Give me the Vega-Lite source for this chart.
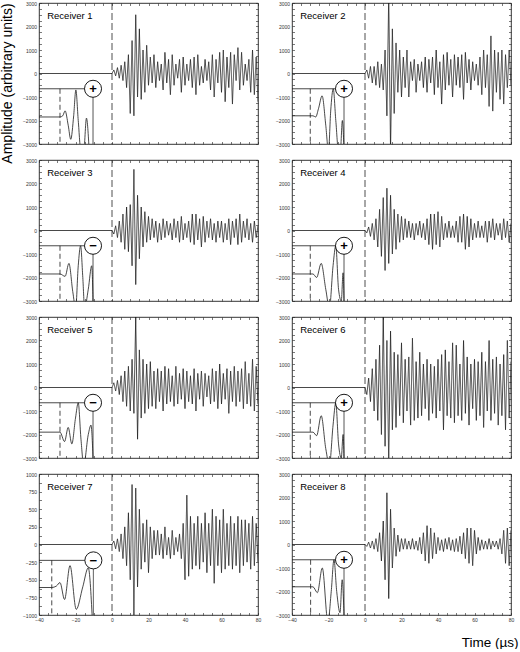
{
"$schema":"https://vega.github.io/schema/vega-lite/v6.json",
"padding":{"left":0,"top":0,"right":0,"bottom":0},
"background":"white",
"columns":2,
"spacing":{"row":16,"column":34},
"bounds":"flush",
"data":{"values":[
{"r":1,"s":"w","t":-40,"a":0},{"r":1,"s":"w","t":0,"a":0},{"r":1,"s":"w","t":1,"a":150},{"r":1,"s":"w","t":2,"a":-100},{"r":1,"s":"w","t":3,"a":250},{"r":1,"s":"w","t":4,"a":-200},{"r":1,"s":"w","t":5,"a":350},{"r":1,"s":"w","t":6,"a":-300},{"r":1,"s":"w","t":7,"a":500},{"r":1,"s":"w","t":8,"a":-600},{"r":1,"s":"w","t":9,"a":800},{"r":1,"s":"w","t":10,"a":-1700},{"r":1,"s":"w","t":11,"a":1400},{"r":1,"s":"w","t":12,"a":-1800},{"r":1,"s":"w","t":13,"a":2500},{"r":1,"s":"w","t":14,"a":-1000},{"r":1,"s":"w","t":15,"a":1900},{"r":1,"s":"w","t":16,"a":-1100},{"r":1,"s":"w","t":17,"a":1000},{"r":1,"s":"w","t":18,"a":-800},{"r":1,"s":"w","t":19,"a":1200},{"r":1,"s":"w","t":20,"a":-500},{"r":1,"s":"w","t":21,"a":700},{"r":1,"s":"w","t":22,"a":-400},{"r":1,"s":"w","t":23,"a":800},{"r":1,"s":"w","t":24,"a":-600},{"r":1,"s":"w","t":25,"a":500},{"r":1,"s":"w","t":26,"a":-300},{"r":1,"s":"w","t":27,"a":400},{"r":1,"s":"w","t":28,"a":-700},{"r":1,"s":"w","t":29,"a":900},{"r":1,"s":"w","t":30,"a":-400},{"r":1,"s":"w","t":31,"a":600},{"r":1,"s":"w","t":32,"a":-900},{"r":1,"s":"w","t":33,"a":800},{"r":1,"s":"w","t":34,"a":-500},{"r":1,"s":"w","t":35,"a":400},{"r":1,"s":"w","t":36,"a":-200},{"r":1,"s":"w","t":37,"a":600},{"r":1,"s":"w","t":38,"a":-800},{"r":1,"s":"w","t":39,"a":700},{"r":1,"s":"w","t":40,"a":-500},{"r":1,"s":"w","t":41,"a":400},{"r":1,"s":"w","t":42,"a":-300},{"r":1,"s":"w","t":43,"a":600},{"r":1,"s":"w","t":44,"a":-600},{"r":1,"s":"w","t":45,"a":700},{"r":1,"s":"w","t":46,"a":-900},{"r":1,"s":"w","t":47,"a":800},{"r":1,"s":"w","t":48,"a":-500},{"r":1,"s":"w","t":49,"a":300},{"r":1,"s":"w","t":50,"a":-400},{"r":1,"s":"w","t":51,"a":600},{"r":1,"s":"w","t":52,"a":-300},{"r":1,"s":"w","t":53,"a":500},{"r":1,"s":"w","t":54,"a":-700},{"r":1,"s":"w","t":55,"a":800},{"r":1,"s":"w","t":56,"a":-1000},{"r":1,"s":"w","t":57,"a":600},{"r":1,"s":"w","t":58,"a":-400},{"r":1,"s":"w","t":59,"a":900},{"r":1,"s":"w","t":60,"a":-800},{"r":1,"s":"w","t":61,"a":1000},{"r":1,"s":"w","t":62,"a":-1200},{"r":1,"s":"w","t":63,"a":700},{"r":1,"s":"w","t":64,"a":-600},{"r":1,"s":"w","t":65,"a":900},{"r":1,"s":"w","t":66,"a":-1300},{"r":1,"s":"w","t":67,"a":800},{"r":1,"s":"w","t":68,"a":-300},{"r":1,"s":"w","t":69,"a":1100},{"r":1,"s":"w","t":70,"a":-700},{"r":1,"s":"w","t":71,"a":900},{"r":1,"s":"w","t":72,"a":-500},{"r":1,"s":"w","t":73,"a":400},{"r":1,"s":"w","t":74,"a":-300},{"r":1,"s":"w","t":75,"a":600},{"r":1,"s":"w","t":76,"a":-800},{"r":1,"s":"w","t":77,"a":1000},{"r":1,"s":"w","t":78,"a":-900},{"r":1,"s":"w","t":79,"a":700},{"r":1,"s":"w","t":80,"a":-1200},
{"r":1,"s":"i","t":-40,"a":-1850},{"r":1,"s":"i","t":-28.5,"a":-1850},{"r":1,"s":"i","t":-27,"a":-1800},{"r":1,"s":"i","t":-25.7,"a":-1590},{"r":1,"s":"i","t":-24,"a":-2200},{"r":1,"s":"i","t":-22.6,"a":-2800},{"r":1,"s":"i","t":-21,"a":-1800},{"r":1,"s":"i","t":-19.8,"a":-700},{"r":1,"s":"i","t":-18.5,"a":-2000},{"r":1,"s":"i","t":-17,"a":-3300},{"r":1,"s":"i","t":-15.5,"a":-3300},{"r":1,"s":"i","t":-14,"a":-1900},{"r":1,"s":"i","t":-12.5,"a":-3300},
{"r":1,"s":"h","t":-40,"a":-650},{"r":1,"s":"h","t":-10.4,"a":-650},{"r":1,"s":"v","t":-10.4,"a":-650},{"r":1,"s":"v","t":-10.4,"a":-3000},{"r":1,"s":"d","t":-28.5,"a":-650},{"r":1,"s":"d","t":-28.5,"a":-3000},
{"r":1,"s":"c","t":-10.4,"a":-650,"g":"+","n":"Receiver 1"},

{"r":2,"s":"w","t":-40,"a":0},{"r":2,"s":"w","t":0,"a":0},{"r":2,"s":"w","t":1,"a":150},{"r":2,"s":"w","t":2,"a":-200},{"r":2,"s":"w","t":3,"a":300},{"r":2,"s":"w","t":4,"a":-400},{"r":2,"s":"w","t":5,"a":300},{"r":2,"s":"w","t":6,"a":-500},{"r":2,"s":"w","t":7,"a":500},{"r":2,"s":"w","t":8,"a":-600},{"r":2,"s":"w","t":9,"a":400},{"r":2,"s":"w","t":10,"a":-700},{"r":2,"s":"w","t":11,"a":1000},{"r":2,"s":"w","t":12,"a":-1800},{"r":2,"s":"w","t":13,"a":3300},{"r":2,"s":"w","t":14,"a":-3300},{"r":2,"s":"w","t":15,"a":1900},{"r":2,"s":"w","t":16,"a":-1700},{"r":2,"s":"w","t":17,"a":1300},{"r":2,"s":"w","t":18,"a":-800},{"r":2,"s":"w","t":19,"a":1000},{"r":2,"s":"w","t":20,"a":-1000},{"r":2,"s":"w","t":21,"a":700},{"r":2,"s":"w","t":22,"a":-600},{"r":2,"s":"w","t":23,"a":1000},{"r":2,"s":"w","t":24,"a":-1000},{"r":2,"s":"w","t":25,"a":500},{"r":2,"s":"w","t":26,"a":-300},{"r":2,"s":"w","t":27,"a":600},{"r":2,"s":"w","t":28,"a":-800},{"r":2,"s":"w","t":29,"a":400},{"r":2,"s":"w","t":30,"a":-300},{"r":2,"s":"w","t":31,"a":500},{"r":2,"s":"w","t":32,"a":-600},{"r":2,"s":"w","t":33,"a":700},{"r":2,"s":"w","t":34,"a":-800},{"r":2,"s":"w","t":35,"a":600},{"r":2,"s":"w","t":36,"a":-400},{"r":2,"s":"w","t":37,"a":700},{"r":2,"s":"w","t":38,"a":-900},{"r":2,"s":"w","t":39,"a":1000},{"r":2,"s":"w","t":40,"a":-600},{"r":2,"s":"w","t":41,"a":500},{"r":2,"s":"w","t":42,"a":-1300},{"r":2,"s":"w","t":43,"a":800},{"r":2,"s":"w","t":44,"a":-700},{"r":2,"s":"w","t":45,"a":900},{"r":2,"s":"w","t":46,"a":-500},{"r":2,"s":"w","t":47,"a":600},{"r":2,"s":"w","t":48,"a":-1000},{"r":2,"s":"w","t":49,"a":800},{"r":2,"s":"w","t":50,"a":-500},{"r":2,"s":"w","t":51,"a":700},{"r":2,"s":"w","t":52,"a":-600},{"r":2,"s":"w","t":53,"a":800},{"r":2,"s":"w","t":54,"a":-1100},{"r":2,"s":"w","t":55,"a":900},{"r":2,"s":"w","t":56,"a":-400},{"r":2,"s":"w","t":57,"a":600},{"r":2,"s":"w","t":58,"a":-700},{"r":2,"s":"w","t":59,"a":500},{"r":2,"s":"w","t":60,"a":-300},{"r":2,"s":"w","t":61,"a":400},{"r":2,"s":"w","t":62,"a":-500},{"r":2,"s":"w","t":63,"a":700},{"r":2,"s":"w","t":64,"a":-900},{"r":2,"s":"w","t":65,"a":1000},{"r":2,"s":"w","t":66,"a":-600},{"r":2,"s":"w","t":67,"a":800},{"r":2,"s":"w","t":68,"a":-1400},{"r":2,"s":"w","t":69,"a":1600},{"r":2,"s":"w","t":70,"a":-1600},{"r":2,"s":"w","t":71,"a":1000},{"r":2,"s":"w","t":72,"a":-800},{"r":2,"s":"w","t":73,"a":900},{"r":2,"s":"w","t":74,"a":-1100},{"r":2,"s":"w","t":75,"a":1000},{"r":2,"s":"w","t":76,"a":-1300},{"r":2,"s":"w","t":77,"a":800},{"r":2,"s":"w","t":78,"a":-600},{"r":2,"s":"w","t":79,"a":1000},{"r":2,"s":"w","t":80,"a":-500},
{"r":2,"s":"i","t":-40,"a":-1800},{"r":2,"s":"i","t":-28.5,"a":-1800},{"r":2,"s":"i","t":-27,"a":-1850},{"r":2,"s":"i","t":-25.5,"a":-1500},{"r":2,"s":"i","t":-23.5,"a":-950},{"r":2,"s":"i","t":-21.5,"a":-2200},{"r":2,"s":"i","t":-20,"a":-3300},{"r":2,"s":"i","t":-18.8,"a":-1600},{"r":2,"s":"i","t":-17.4,"a":-650},{"r":2,"s":"i","t":-16,"a":-2000},{"r":2,"s":"i","t":-14.5,"a":-3300},{"r":2,"s":"i","t":-13.5,"a":-3300},{"r":2,"s":"i","t":-12.4,"a":-2000},{"r":2,"s":"i","t":-11.5,"a":-3300},
{"r":2,"s":"h","t":-40,"a":-650},{"r":2,"s":"h","t":-11.5,"a":-650},{"r":2,"s":"v","t":-11.5,"a":-650},{"r":2,"s":"v","t":-11.5,"a":-3000},{"r":2,"s":"d","t":-30,"a":-650},{"r":2,"s":"d","t":-30,"a":-3000},
{"r":2,"s":"c","t":-11.5,"a":-650,"g":"+","n":"Receiver 2"},

{"r":3,"s":"w","t":-40,"a":0},{"r":3,"s":"w","t":0,"a":0},{"r":3,"s":"w","t":1,"a":-150},{"r":3,"s":"w","t":2,"a":200},{"r":3,"s":"w","t":3,"a":-300},{"r":3,"s":"w","t":4,"a":400},{"r":3,"s":"w","t":5,"a":-500},{"r":3,"s":"w","t":6,"a":700},{"r":3,"s":"w","t":7,"a":-800},{"r":3,"s":"w","t":8,"a":1000},{"r":3,"s":"w","t":9,"a":-900},{"r":3,"s":"w","t":10,"a":1100},{"r":3,"s":"w","t":11,"a":-1500},{"r":3,"s":"w","t":12,"a":2600},{"r":3,"s":"w","t":13,"a":-2300},{"r":3,"s":"w","t":14,"a":1500},{"r":3,"s":"w","t":15,"a":-1200},{"r":3,"s":"w","t":16,"a":1000},{"r":3,"s":"w","t":17,"a":-700},{"r":3,"s":"w","t":18,"a":800},{"r":3,"s":"w","t":19,"a":-500},{"r":3,"s":"w","t":20,"a":600},{"r":3,"s":"w","t":21,"a":-400},{"r":3,"s":"w","t":22,"a":500},{"r":3,"s":"w","t":23,"a":-300},{"r":3,"s":"w","t":24,"a":400},{"r":3,"s":"w","t":25,"a":-500},{"r":3,"s":"w","t":26,"a":300},{"r":3,"s":"w","t":27,"a":-400},{"r":3,"s":"w","t":28,"a":500},{"r":3,"s":"w","t":29,"a":-300},{"r":3,"s":"w","t":30,"a":400},{"r":3,"s":"w","t":31,"a":-200},{"r":3,"s":"w","t":32,"a":300},{"r":3,"s":"w","t":33,"a":-400},{"r":3,"s":"w","t":34,"a":500},{"r":3,"s":"w","t":35,"a":-300},{"r":3,"s":"w","t":36,"a":400},{"r":3,"s":"w","t":37,"a":-500},{"r":3,"s":"w","t":38,"a":600},{"r":3,"s":"w","t":39,"a":-400},{"r":3,"s":"w","t":40,"a":300},{"r":3,"s":"w","t":41,"a":-300},{"r":3,"s":"w","t":42,"a":400},{"r":3,"s":"w","t":43,"a":-500},{"r":3,"s":"w","t":44,"a":700},{"r":3,"s":"w","t":45,"a":-600},{"r":3,"s":"w","t":46,"a":700},{"r":3,"s":"w","t":47,"a":-400},{"r":3,"s":"w","t":48,"a":500},{"r":3,"s":"w","t":49,"a":-700},{"r":3,"s":"w","t":50,"a":600},{"r":3,"s":"w","t":51,"a":-500},{"r":3,"s":"w","t":52,"a":400},{"r":3,"s":"w","t":53,"a":-300},{"r":3,"s":"w","t":54,"a":500},{"r":3,"s":"w","t":55,"a":-400},{"r":3,"s":"w","t":56,"a":300},{"r":3,"s":"w","t":57,"a":-500},{"r":3,"s":"w","t":58,"a":400},{"r":3,"s":"w","t":59,"a":-300},{"r":3,"s":"w","t":60,"a":400},{"r":3,"s":"w","t":61,"a":-500},{"r":3,"s":"w","t":62,"a":300},{"r":3,"s":"w","t":63,"a":-400},{"r":3,"s":"w","t":64,"a":500},{"r":3,"s":"w","t":65,"a":-600},{"r":3,"s":"w","t":66,"a":400},{"r":3,"s":"w","t":67,"a":-300},{"r":3,"s":"w","t":68,"a":500},{"r":3,"s":"w","t":69,"a":-600},{"r":3,"s":"w","t":70,"a":700},{"r":3,"s":"w","t":71,"a":-500},{"r":3,"s":"w","t":72,"a":400},{"r":3,"s":"w","t":73,"a":-300},{"r":3,"s":"w","t":74,"a":500},{"r":3,"s":"w","t":75,"a":-400},{"r":3,"s":"w","t":76,"a":300},{"r":3,"s":"w","t":77,"a":-500},{"r":3,"s":"w","t":78,"a":400},{"r":3,"s":"w","t":79,"a":-300},{"r":3,"s":"w","t":80,"a":200},
{"r":3,"s":"i","t":-40,"a":-1850},{"r":3,"s":"i","t":-28.5,"a":-1850},{"r":3,"s":"i","t":-25.7,"a":-1950},{"r":3,"s":"i","t":-23.6,"a":-1400},{"r":3,"s":"i","t":-21.5,"a":-2600},{"r":3,"s":"i","t":-19.9,"a":-3300},{"r":3,"s":"i","t":-18.5,"a":-1500},{"r":3,"s":"i","t":-17.2,"a":-650},{"r":3,"s":"i","t":-16,"a":-2000},{"r":3,"s":"i","t":-15,"a":-3300},{"r":3,"s":"i","t":-13,"a":-2500},{"r":3,"s":"i","t":-11.1,"a":-1500},{"r":3,"s":"i","t":-10.4,"a":-3000},
{"r":3,"s":"h","t":-40,"a":-650},{"r":3,"s":"h","t":-10.4,"a":-650},{"r":3,"s":"v","t":-10.4,"a":-650},{"r":3,"s":"v","t":-10.4,"a":-3000},{"r":3,"s":"d","t":-28.5,"a":-650},{"r":3,"s":"d","t":-28.5,"a":-3000},
{"r":3,"s":"c","t":-10.4,"a":-650,"g":"−","n":"Receiver 3"},

{"r":4,"s":"w","t":-40,"a":0},{"r":4,"s":"w","t":0,"a":0},{"r":4,"s":"w","t":1,"a":-100},{"r":4,"s":"w","t":2,"a":150},{"r":4,"s":"w","t":3,"a":-250},{"r":4,"s":"w","t":4,"a":300},{"r":4,"s":"w","t":5,"a":-400},{"r":4,"s":"w","t":6,"a":500},{"r":4,"s":"w","t":7,"a":-700},{"r":4,"s":"w","t":8,"a":900},{"r":4,"s":"w","t":9,"a":-1100},{"r":4,"s":"w","t":10,"a":1400},{"r":4,"s":"w","t":11,"a":-1700},{"r":4,"s":"w","t":12,"a":1800},{"r":4,"s":"w","t":13,"a":-1400},{"r":4,"s":"w","t":14,"a":1500},{"r":4,"s":"w","t":15,"a":-1000},{"r":4,"s":"w","t":16,"a":900},{"r":4,"s":"w","t":17,"a":-800},{"r":4,"s":"w","t":18,"a":700},{"r":4,"s":"w","t":19,"a":-500},{"r":4,"s":"w","t":20,"a":600},{"r":4,"s":"w","t":21,"a":-400},{"r":4,"s":"w","t":22,"a":500},{"r":4,"s":"w","t":23,"a":-300},{"r":4,"s":"w","t":24,"a":400},{"r":4,"s":"w","t":25,"a":-300},{"r":4,"s":"w","t":26,"a":300},{"r":4,"s":"w","t":27,"a":-400},{"r":4,"s":"w","t":28,"a":300},{"r":4,"s":"w","t":29,"a":-200},{"r":4,"s":"w","t":30,"a":400},{"r":4,"s":"w","t":31,"a":-300},{"r":4,"s":"w","t":32,"a":300},{"r":4,"s":"w","t":33,"a":-400},{"r":4,"s":"w","t":34,"a":500},{"r":4,"s":"w","t":35,"a":-600},{"r":4,"s":"w","t":36,"a":700},{"r":4,"s":"w","t":37,"a":-800},{"r":4,"s":"w","t":38,"a":700},{"r":4,"s":"w","t":39,"a":-600},{"r":4,"s":"w","t":40,"a":800},{"r":4,"s":"w","t":41,"a":-700},{"r":4,"s":"w","t":42,"a":600},{"r":4,"s":"w","t":43,"a":-400},{"r":4,"s":"w","t":44,"a":300},{"r":4,"s":"w","t":45,"a":-300},{"r":4,"s":"w","t":46,"a":400},{"r":4,"s":"w","t":47,"a":-300},{"r":4,"s":"w","t":48,"a":200},{"r":4,"s":"w","t":49,"a":-300},{"r":4,"s":"w","t":50,"a":400},{"r":4,"s":"w","t":51,"a":-500},{"r":4,"s":"w","t":52,"a":600},{"r":4,"s":"w","t":53,"a":-500},{"r":4,"s":"w","t":54,"a":700},{"r":4,"s":"w","t":55,"a":-800},{"r":4,"s":"w","t":56,"a":600},{"r":4,"s":"w","t":57,"a":-700},{"r":4,"s":"w","t":58,"a":500},{"r":4,"s":"w","t":59,"a":-400},{"r":4,"s":"w","t":60,"a":300},{"r":4,"s":"w","t":61,"a":-300},{"r":4,"s":"w","t":62,"a":400},{"r":4,"s":"w","t":63,"a":-300},{"r":4,"s":"w","t":64,"a":200},{"r":4,"s":"w","t":65,"a":-300},{"r":4,"s":"w","t":66,"a":400},{"r":4,"s":"w","t":67,"a":-500},{"r":4,"s":"w","t":68,"a":400},{"r":4,"s":"w","t":69,"a":-300},{"r":4,"s":"w","t":70,"a":500},{"r":4,"s":"w","t":71,"a":-400},{"r":4,"s":"w","t":72,"a":300},{"r":4,"s":"w","t":73,"a":-200},{"r":4,"s":"w","t":74,"a":300},{"r":4,"s":"w","t":75,"a":-400},{"r":4,"s":"w","t":76,"a":500},{"r":4,"s":"w","t":77,"a":-300},{"r":4,"s":"w","t":78,"a":400},{"r":4,"s":"w","t":79,"a":-500},{"r":4,"s":"w","t":80,"a":300},
{"r":4,"s":"i","t":-40,"a":-1850},{"r":4,"s":"i","t":-28.5,"a":-1850},{"r":4,"s":"i","t":-26.5,"a":-2000},{"r":4,"s":"i","t":-24,"a":-1400},{"r":4,"s":"i","t":-21.5,"a":-2500},{"r":4,"s":"i","t":-19.5,"a":-3300},{"r":4,"s":"i","t":-17.5,"a":-1500},{"r":4,"s":"i","t":-16,"a":-650},{"r":4,"s":"i","t":-14.5,"a":-2500},{"r":4,"s":"i","t":-13,"a":-3000},{"r":4,"s":"i","t":-12,"a":-1800},{"r":4,"s":"i","t":-11.5,"a":-3000},
{"r":4,"s":"h","t":-40,"a":-650},{"r":4,"s":"h","t":-11.5,"a":-650},{"r":4,"s":"v","t":-11.5,"a":-650},{"r":4,"s":"v","t":-11.5,"a":-3000},{"r":4,"s":"d","t":-30,"a":-650},{"r":4,"s":"d","t":-30,"a":-3000},
{"r":4,"s":"c","t":-11.5,"a":-650,"g":"+","n":"Receiver 4"},

{"r":5,"s":"w","t":-40,"a":0},{"r":5,"s":"w","t":0,"a":0},{"r":5,"s":"w","t":1,"a":200},{"r":5,"s":"w","t":2,"a":-150},{"r":5,"s":"w","t":3,"a":300},{"r":5,"s":"w","t":4,"a":-300},{"r":5,"s":"w","t":5,"a":500},{"r":5,"s":"w","t":6,"a":-600},{"r":5,"s":"w","t":7,"a":700},{"r":5,"s":"w","t":8,"a":-800},{"r":5,"s":"w","t":9,"a":900},{"r":5,"s":"w","t":10,"a":-1000},{"r":5,"s":"w","t":11,"a":1200},{"r":5,"s":"w","t":12,"a":-1100},{"r":5,"s":"w","t":13,"a":3000},{"r":5,"s":"w","t":14,"a":-2200},{"r":5,"s":"w","t":15,"a":1600},{"r":5,"s":"w","t":16,"a":-1300},{"r":5,"s":"w","t":17,"a":1200},{"r":5,"s":"w","t":18,"a":-1100},{"r":5,"s":"w","t":19,"a":1000},{"r":5,"s":"w","t":20,"a":-900},{"r":5,"s":"w","t":21,"a":1100},{"r":5,"s":"w","t":22,"a":-800},{"r":5,"s":"w","t":23,"a":700},{"r":5,"s":"w","t":24,"a":-900},{"r":5,"s":"w","t":25,"a":800},{"r":5,"s":"w","t":26,"a":-600},{"r":5,"s":"w","t":27,"a":700},{"r":5,"s":"w","t":28,"a":-1000},{"r":5,"s":"w","t":29,"a":900},{"r":5,"s":"w","t":30,"a":-700},{"r":5,"s":"w","t":31,"a":800},{"r":5,"s":"w","t":32,"a":-600},{"r":5,"s":"w","t":33,"a":500},{"r":5,"s":"w","t":34,"a":-800},{"r":5,"s":"w","t":35,"a":900},{"r":5,"s":"w","t":36,"a":-700},{"r":5,"s":"w","t":37,"a":600},{"r":5,"s":"w","t":38,"a":-500},{"r":5,"s":"w","t":39,"a":800},{"r":5,"s":"w","t":40,"a":-900},{"r":5,"s":"w","t":41,"a":700},{"r":5,"s":"w","t":42,"a":-600},{"r":5,"s":"w","t":43,"a":500},{"r":5,"s":"w","t":44,"a":-700},{"r":5,"s":"w","t":45,"a":800},{"r":5,"s":"w","t":46,"a":-1000},{"r":5,"s":"w","t":47,"a":600},{"r":5,"s":"w","t":48,"a":-500},{"r":5,"s":"w","t":49,"a":700},{"r":5,"s":"w","t":50,"a":-800},{"r":5,"s":"w","t":51,"a":600},{"r":5,"s":"w","t":52,"a":-400},{"r":5,"s":"w","t":53,"a":500},{"r":5,"s":"w","t":54,"a":-700},{"r":5,"s":"w","t":55,"a":800},{"r":5,"s":"w","t":56,"a":-600},{"r":5,"s":"w","t":57,"a":700},{"r":5,"s":"w","t":58,"a":-900},{"r":5,"s":"w","t":59,"a":1000},{"r":5,"s":"w","t":60,"a":-700},{"r":5,"s":"w","t":61,"a":600},{"r":5,"s":"w","t":62,"a":-500},{"r":5,"s":"w","t":63,"a":800},{"r":5,"s":"w","t":64,"a":-1100},{"r":5,"s":"w","t":65,"a":700},{"r":5,"s":"w","t":66,"a":-600},{"r":5,"s":"w","t":67,"a":900},{"r":5,"s":"w","t":68,"a":-800},{"r":5,"s":"w","t":69,"a":700},{"r":5,"s":"w","t":70,"a":-600},{"r":5,"s":"w","t":71,"a":800},{"r":5,"s":"w","t":72,"a":-900},{"r":5,"s":"w","t":73,"a":1100},{"r":5,"s":"w","t":74,"a":-700},{"r":5,"s":"w","t":75,"a":600},{"r":5,"s":"w","t":76,"a":-800},{"r":5,"s":"w","t":77,"a":1200},{"r":5,"s":"w","t":78,"a":-1000},{"r":5,"s":"w","t":79,"a":900},{"r":5,"s":"w","t":80,"a":-700},
{"r":5,"s":"i","t":-40,"a":-1900},{"r":5,"s":"i","t":-28.5,"a":-1900},{"r":5,"s":"i","t":-26,"a":-2300},{"r":5,"s":"i","t":-24,"a":-1700},{"r":5,"s":"i","t":-22,"a":-2400},{"r":5,"s":"i","t":-20,"a":-1300},{"r":5,"s":"i","t":-18.5,"a":-650},{"r":5,"s":"i","t":-17,"a":-2200},{"r":5,"s":"i","t":-15.5,"a":-3300},{"r":5,"s":"i","t":-13,"a":-2000},{"r":5,"s":"i","t":-11.5,"a":-1600},{"r":5,"s":"i","t":-10.4,"a":-3000},
{"r":5,"s":"h","t":-40,"a":-650},{"r":5,"s":"h","t":-10.4,"a":-650},{"r":5,"s":"v","t":-10.4,"a":-650},{"r":5,"s":"v","t":-10.4,"a":-3000},{"r":5,"s":"d","t":-28.5,"a":-650},{"r":5,"s":"d","t":-28.5,"a":-3000},
{"r":5,"s":"c","t":-10.4,"a":-650,"g":"−","n":"Receiver 5"},

{"r":6,"s":"w","t":-40,"a":0},{"r":6,"s":"w","t":0,"a":0},{"r":6,"s":"w","t":1,"a":-300},{"r":6,"s":"w","t":2,"a":400},{"r":6,"s":"w","t":3,"a":-600},{"r":6,"s":"w","t":4,"a":800},{"r":6,"s":"w","t":5,"a":-1000},{"r":6,"s":"w","t":6,"a":1200},{"r":6,"s":"w","t":7,"a":-1400},{"r":6,"s":"w","t":8,"a":1800},{"r":6,"s":"w","t":9,"a":-2000},{"r":6,"s":"w","t":10,"a":3200},{"r":6,"s":"w","t":11,"a":-2500},{"r":6,"s":"w","t":12,"a":2000},{"r":6,"s":"w","t":13,"a":-3200},{"r":6,"s":"w","t":14,"a":2400},{"r":6,"s":"w","t":15,"a":-1800},{"r":6,"s":"w","t":16,"a":1500},{"r":6,"s":"w","t":17,"a":-1700},{"r":6,"s":"w","t":18,"a":1400},{"r":6,"s":"w","t":19,"a":-1200},{"r":6,"s":"w","t":20,"a":1900},{"r":6,"s":"w","t":21,"a":-1500},{"r":6,"s":"w","t":22,"a":1200},{"r":6,"s":"w","t":23,"a":-1000},{"r":6,"s":"w","t":24,"a":1300},{"r":6,"s":"w","t":25,"a":-1600},{"r":6,"s":"w","t":26,"a":2100},{"r":6,"s":"w","t":27,"a":-1400},{"r":6,"s":"w","t":28,"a":1100},{"r":6,"s":"w","t":29,"a":-1300},{"r":6,"s":"w","t":30,"a":1500},{"r":6,"s":"w","t":31,"a":-1200},{"r":6,"s":"w","t":32,"a":1000},{"r":6,"s":"w","t":33,"a":-900},{"r":6,"s":"w","t":34,"a":1200},{"r":6,"s":"w","t":35,"a":-1400},{"r":6,"s":"w","t":36,"a":1000},{"r":6,"s":"w","t":37,"a":-1100},{"r":6,"s":"w","t":38,"a":900},{"r":6,"s":"w","t":39,"a":-1300},{"r":6,"s":"w","t":40,"a":1200},{"r":6,"s":"w","t":41,"a":-1000},{"r":6,"s":"w","t":42,"a":1400},{"r":6,"s":"w","t":43,"a":-1800},{"r":6,"s":"w","t":44,"a":1600},{"r":6,"s":"w","t":45,"a":-1200},{"r":6,"s":"w","t":46,"a":1100},{"r":6,"s":"w","t":47,"a":-1300},{"r":6,"s":"w","t":48,"a":1900},{"r":6,"s":"w","t":49,"a":-1500},{"r":6,"s":"w","t":50,"a":1800},{"r":6,"s":"w","t":51,"a":-1200},{"r":6,"s":"w","t":52,"a":1000},{"r":6,"s":"w","t":53,"a":-1400},{"r":6,"s":"w","t":54,"a":2000},{"r":6,"s":"w","t":55,"a":-1100},{"r":6,"s":"w","t":56,"a":1300},{"r":6,"s":"w","t":57,"a":-1600},{"r":6,"s":"w","t":58,"a":1000},{"r":6,"s":"w","t":59,"a":-900},{"r":6,"s":"w","t":60,"a":1200},{"r":6,"s":"w","t":61,"a":-1400},{"r":6,"s":"w","t":62,"a":1100},{"r":6,"s":"w","t":63,"a":-1200},{"r":6,"s":"w","t":64,"a":1500},{"r":6,"s":"w","t":65,"a":-1700},{"r":6,"s":"w","t":66,"a":1100},{"r":6,"s":"w","t":67,"a":-1000},{"r":6,"s":"w","t":68,"a":2000},{"r":6,"s":"w","t":69,"a":-1400},{"r":6,"s":"w","t":70,"a":1200},{"r":6,"s":"w","t":71,"a":-1100},{"r":6,"s":"w","t":72,"a":1300},{"r":6,"s":"w","t":73,"a":-1600},{"r":6,"s":"w","t":74,"a":1000},{"r":6,"s":"w","t":75,"a":-1200},{"r":6,"s":"w","t":76,"a":1400},{"r":6,"s":"w","t":77,"a":-1800},{"r":6,"s":"w","t":78,"a":2000},{"r":6,"s":"w","t":79,"a":-1300},{"r":6,"s":"w","t":80,"a":1100},
{"r":6,"s":"i","t":-40,"a":-1900},{"r":6,"s":"i","t":-28.5,"a":-1900},{"r":6,"s":"i","t":-26.5,"a":-2050},{"r":6,"s":"i","t":-24,"a":-1200},{"r":6,"s":"i","t":-21.5,"a":-2600},{"r":6,"s":"i","t":-19.5,"a":-3300},{"r":6,"s":"i","t":-17.5,"a":-1600},{"r":6,"s":"i","t":-16,"a":-650},{"r":6,"s":"i","t":-14.5,"a":-2400},{"r":6,"s":"i","t":-13,"a":-3000},{"r":6,"s":"i","t":-12,"a":-2000},{"r":6,"s":"i","t":-11.5,"a":-3000},
{"r":6,"s":"h","t":-40,"a":-650},{"r":6,"s":"h","t":-11.5,"a":-650},{"r":6,"s":"v","t":-11.5,"a":-650},{"r":6,"s":"v","t":-11.5,"a":-3000},{"r":6,"s":"d","t":-30,"a":-650},{"r":6,"s":"d","t":-30,"a":-3000},
{"r":6,"s":"c","t":-11.5,"a":-650,"g":"+","n":"Receiver 6"},

{"r":7,"s":"w","t":-40,"a":0},{"r":7,"s":"w","t":0,"a":0},{"r":7,"s":"w","t":1,"a":50},{"r":7,"s":"w","t":2,"a":-60},{"r":7,"s":"w","t":3,"a":80},{"r":7,"s":"w","t":4,"a":-100},{"r":7,"s":"w","t":5,"a":150},{"r":7,"s":"w","t":6,"a":-200},{"r":7,"s":"w","t":7,"a":250},{"r":7,"s":"w","t":8,"a":-300},{"r":7,"s":"w","t":9,"a":450},{"r":7,"s":"w","t":10,"a":-500},{"r":7,"s":"w","t":11,"a":850},{"r":7,"s":"w","t":12,"a":-1000},{"r":7,"s":"w","t":13,"a":800},{"r":7,"s":"w","t":14,"a":-600},{"r":7,"s":"w","t":15,"a":500},{"r":7,"s":"w","t":16,"a":-350},{"r":7,"s":"w","t":17,"a":300},{"r":7,"s":"w","t":18,"a":-250},{"r":7,"s":"w","t":19,"a":350},{"r":7,"s":"w","t":20,"a":-400},{"r":7,"s":"w","t":21,"a":250},{"r":7,"s":"w","t":22,"a":-200},{"r":7,"s":"w","t":23,"a":200},{"r":7,"s":"w","t":24,"a":-150},{"r":7,"s":"w","t":25,"a":200},{"r":7,"s":"w","t":26,"a":-150},{"r":7,"s":"w","t":27,"a":150},{"r":7,"s":"w","t":28,"a":-200},{"r":7,"s":"w","t":29,"a":250},{"r":7,"s":"w","t":30,"a":-150},{"r":7,"s":"w","t":31,"a":100},{"r":7,"s":"w","t":32,"a":-200},{"r":7,"s":"w","t":33,"a":200},{"r":7,"s":"w","t":34,"a":-150},{"r":7,"s":"w","t":35,"a":100},{"r":7,"s":"w","t":36,"a":-100},{"r":7,"s":"w","t":37,"a":150},{"r":7,"s":"w","t":38,"a":-200},{"r":7,"s":"w","t":39,"a":300},{"r":7,"s":"w","t":40,"a":-500},{"r":7,"s":"w","t":41,"a":700},{"r":7,"s":"w","t":42,"a":-450},{"r":7,"s":"w","t":43,"a":400},{"r":7,"s":"w","t":44,"a":-350},{"r":7,"s":"w","t":45,"a":300},{"r":7,"s":"w","t":46,"a":-300},{"r":7,"s":"w","t":47,"a":400},{"r":7,"s":"w","t":48,"a":-350},{"r":7,"s":"w","t":49,"a":300},{"r":7,"s":"w","t":50,"a":-250},{"r":7,"s":"w","t":51,"a":450},{"r":7,"s":"w","t":52,"a":-400},{"r":7,"s":"w","t":53,"a":300},{"r":7,"s":"w","t":54,"a":-300},{"r":7,"s":"w","t":55,"a":500},{"r":7,"s":"w","t":56,"a":-550},{"r":7,"s":"w","t":57,"a":400},{"r":7,"s":"w","t":58,"a":-300},{"r":7,"s":"w","t":59,"a":350},{"r":7,"s":"w","t":60,"a":-400},{"r":7,"s":"w","t":61,"a":500},{"r":7,"s":"w","t":62,"a":-350},{"r":7,"s":"w","t":63,"a":300},{"r":7,"s":"w","t":64,"a":-300},{"r":7,"s":"w","t":65,"a":400},{"r":7,"s":"w","t":66,"a":-350},{"r":7,"s":"w","t":67,"a":300},{"r":7,"s":"w","t":68,"a":-300},{"r":7,"s":"w","t":69,"a":400},{"r":7,"s":"w","t":70,"a":-400},{"r":7,"s":"w","t":71,"a":350},{"r":7,"s":"w","t":72,"a":-300},{"r":7,"s":"w","t":73,"a":350},{"r":7,"s":"w","t":74,"a":-250},{"r":7,"s":"w","t":75,"a":300},{"r":7,"s":"w","t":76,"a":-350},{"r":7,"s":"w","t":77,"a":400},{"r":7,"s":"w","t":78,"a":-300},{"r":7,"s":"w","t":79,"a":300},{"r":7,"s":"w","t":80,"a":-250},
{"r":7,"s":"i","t":-40,"a":-610},{"r":7,"s":"i","t":-33,"a":-610},{"r":7,"s":"i","t":-30.5,"a":-590},{"r":7,"s":"i","t":-28.5,"a":-540},{"r":7,"s":"i","t":-26,"a":-780},{"r":7,"s":"i","t":-23,"a":-300},{"r":7,"s":"i","t":-19.6,"a":-920},{"r":7,"s":"i","t":-16,"a":-600},{"r":7,"s":"i","t":-13,"a":-330},{"r":7,"s":"i","t":-10.8,"a":-1050},
{"r":7,"s":"h","t":-40,"a":-225},{"r":7,"s":"h","t":-10.2,"a":-225},{"r":7,"s":"v","t":-10.2,"a":-225},{"r":7,"s":"v","t":-10.2,"a":-1000},{"r":7,"s":"d","t":-33,"a":-225},{"r":7,"s":"d","t":-33,"a":-1000},
{"r":7,"s":"c","t":-10.2,"a":-225,"g":"−","n":"Receiver 7"},

{"r":8,"s":"w","t":-40,"a":0},{"r":8,"s":"w","t":0,"a":0},{"r":8,"s":"w","t":1,"a":-80},{"r":8,"s":"w","t":2,"a":100},{"r":8,"s":"w","t":3,"a":-150},{"r":8,"s":"w","t":4,"a":150},{"r":8,"s":"w","t":5,"a":-200},{"r":8,"s":"w","t":6,"a":250},{"r":8,"s":"w","t":7,"a":-300},{"r":8,"s":"w","t":8,"a":500},{"r":8,"s":"w","t":9,"a":-700},{"r":8,"s":"w","t":10,"a":1000},{"r":8,"s":"w","t":11,"a":-1500},{"r":8,"s":"w","t":12,"a":2200},{"r":8,"s":"w","t":13,"a":-2300},{"r":8,"s":"w","t":14,"a":1500},{"r":8,"s":"w","t":15,"a":-1000},{"r":8,"s":"w","t":16,"a":700},{"r":8,"s":"w","t":17,"a":-500},{"r":8,"s":"w","t":18,"a":400},{"r":8,"s":"w","t":19,"a":-300},{"r":8,"s":"w","t":20,"a":250},{"r":8,"s":"w","t":21,"a":-200},{"r":8,"s":"w","t":22,"a":250},{"r":8,"s":"w","t":23,"a":-200},{"r":8,"s":"w","t":24,"a":150},{"r":8,"s":"w","t":25,"a":-200},{"r":8,"s":"w","t":26,"a":250},{"r":8,"s":"w","t":27,"a":-200},{"r":8,"s":"w","t":28,"a":150},{"r":8,"s":"w","t":29,"a":-250},{"r":8,"s":"w","t":30,"a":300},{"r":8,"s":"w","t":31,"a":-400},{"r":8,"s":"w","t":32,"a":500},{"r":8,"s":"w","t":33,"a":-700},{"r":8,"s":"w","t":34,"a":800},{"r":8,"s":"w","t":35,"a":-800},{"r":8,"s":"w","t":36,"a":700},{"r":8,"s":"w","t":37,"a":-600},{"r":8,"s":"w","t":38,"a":500},{"r":8,"s":"w","t":39,"a":-400},{"r":8,"s":"w","t":40,"a":300},{"r":8,"s":"w","t":41,"a":-250},{"r":8,"s":"w","t":42,"a":200},{"r":8,"s":"w","t":43,"a":-300},{"r":8,"s":"w","t":44,"a":250},{"r":8,"s":"w","t":45,"a":-200},{"r":8,"s":"w","t":46,"a":300},{"r":8,"s":"w","t":47,"a":-250},{"r":8,"s":"w","t":48,"a":200},{"r":8,"s":"w","t":49,"a":-300},{"r":8,"s":"w","t":50,"a":250},{"r":8,"s":"w","t":51,"a":-300},{"r":8,"s":"w","t":52,"a":350},{"r":8,"s":"w","t":53,"a":-400},{"r":8,"s":"w","t":54,"a":500},{"r":8,"s":"w","t":55,"a":-600},{"r":8,"s":"w","t":56,"a":700},{"r":8,"s":"w","t":57,"a":-800},{"r":8,"s":"w","t":58,"a":700},{"r":8,"s":"w","t":59,"a":-900},{"r":8,"s":"w","t":60,"a":600},{"r":8,"s":"w","t":61,"a":-400},{"r":8,"s":"w","t":62,"a":300},{"r":8,"s":"w","t":63,"a":-250},{"r":8,"s":"w","t":64,"a":200},{"r":8,"s":"w","t":65,"a":-200},{"r":8,"s":"w","t":66,"a":150},{"r":8,"s":"w","t":67,"a":-200},{"r":8,"s":"w","t":68,"a":250},{"r":8,"s":"w","t":69,"a":-200},{"r":8,"s":"w","t":70,"a":150},{"r":8,"s":"w","t":71,"a":-100},{"r":8,"s":"w","t":72,"a":150},{"r":8,"s":"w","t":73,"a":-200},{"r":8,"s":"w","t":74,"a":250},{"r":8,"s":"w","t":75,"a":-400},{"r":8,"s":"w","t":76,"a":600},{"r":8,"s":"w","t":77,"a":-800},{"r":8,"s":"w","t":78,"a":700},{"r":8,"s":"w","t":79,"a":-900},{"r":8,"s":"w","t":80,"a":600},
{"r":8,"s":"i","t":-40,"a":-1800},{"r":8,"s":"i","t":-28.5,"a":-1800},{"r":8,"s":"i","t":-26.1,"a":-2050},{"r":8,"s":"i","t":-23.4,"a":-1000},{"r":8,"s":"i","t":-20.3,"a":-3300},{"r":8,"s":"i","t":-18.5,"a":-2000},{"r":8,"s":"i","t":-17,"a":-650},{"r":8,"s":"i","t":-15.5,"a":-2000},{"r":8,"s":"i","t":-13.7,"a":-2900},{"r":8,"s":"i","t":-12.5,"a":-1500},{"r":8,"s":"i","t":-11.5,"a":-3000},
{"r":8,"s":"h","t":-40,"a":-650},{"r":8,"s":"h","t":-11.5,"a":-650},{"r":8,"s":"v","t":-11.5,"a":-650},{"r":8,"s":"v","t":-11.5,"a":-3000},{"r":8,"s":"d","t":-29.8,"a":-650},{"r":8,"s":"d","t":-29.8,"a":-3000},
{"r":8,"s":"c","t":-11.5,"a":-650,"g":"+","n":"Receiver 8"}
]},
"concat":[
{"width":219,"height":141,"transform":[{"filter":"datum.r === 1"}],"layer":[
{"transform":[{"filter":"datum.s === 'c'"}],"mark":{"type":"rule","strokeDash":[7,3],"strokeWidth":0.8,"color":"#222"},"encoding":{"x":{"datum":0,"type":"quantitative","axis":null}}},
{"transform":[{"filter":"datum.s !== 'c' && datum.s !== 'i'"}],"mark":{"type":"line","clip":true,"strokeWidth":0.8,"color":"#1a1a1a"},"encoding":{"x":{"field":"t","type":"quantitative","scale":{"domain":[-40,80],"nice":false,"zero":false},"axis":{"orient":"bottom","values":[-40,-35,-30,-25,-20,-15,-10,-5,0,5,10,15,20,25,30,35,40,45,50,55,60,65,70,75,80],"labels":false,"title":null}},"y":{"field":"a","type":"quantitative","scale":{"domain":[-3000,3000],"nice":false,"zero":false},"axis":{"orient":"left","values":[-3000,-2750,-2500,-2250,-2000,-1750,-1500,-1250,-1000,-750,-500,-250,0,250,500,750,1000,1250,1500,1750,2000,2250,2500,2750,3000],"format":"d","labelExpr":"datum.value % 1000 === 0 ? datum.label : ''","title":"Amplitude (arbitrary units)","titleFontSize":14,"titleX":-27.5,"titleY":80,"titleAngle":270,"titleAlign":"center","titleBaseline":"alphabetic"}},"strokeDash":{"field":"s","type":"nominal","scale":{"domain":["w","i","h","v","d"],"range":[[1,0],[1,0],[1,0],[1,0],[5,3]]},"legend":null}}},
{"transform":[{"filter":"datum.s === 'i'"}],"mark":{"type":"line","clip":true,"strokeWidth":0.8,"color":"#1a1a1a","interpolate":"monotone"},"encoding":{"x":{"field":"t","type":"quantitative","axis":null},"y":{"field":"a","type":"quantitative","axis":null}}},
{"transform":[{"filter":"datum.s === 'c'"}],"mark":{"type":"point","shape":"circle","filled":true,"fill":"#ffffff","stroke":"#000000","strokeWidth":0.9,"size":290,"opacity":1},"encoding":{"x":{"field":"t","type":"quantitative","axis":{"orient":"top","values":[-40,-35,-30,-25,-20,-15,-10,-5,0,5,10,15,20,25,30,35,40,45,50,55,60,65,70,75,80],"labels":false,"title":null}},"y":{"field":"a","type":"quantitative","axis":{"orient":"right","values":[-3000,-2750,-2500,-2250,-2000,-1750,-1500,-1250,-1000,-750,-500,-250,0,250,500,750,1000,1250,1500,1750,2000,2250,2500,2750,3000],"labels":false,"title":null}}}},
{"transform":[{"filter":"datum.s === 'c'"}],"mark":{"type":"text","fontSize":13,"fontWeight":"bold","align":"center","baseline":"middle","dy":0.5,"color":"#000"},"encoding":{"x":{"field":"t","type":"quantitative","axis":null},"y":{"field":"a","type":"quantitative","axis":null},"text":{"field":"g"}}},
{"transform":[{"filter":"datum.s === 'c'"}],"mark":{"type":"text","fontSize":9.5,"align":"left","baseline":"alphabetic","color":"#000"},"encoding":{"x":{"datum":-35.5,"type":"quantitative","axis":null},"y":{"datum":2340,"type":"quantitative","axis":null},"text":{"field":"n"}}}
]},
{"width":219,"height":141,"transform":[{"filter":"datum.r === 2"}],"layer":[
{"transform":[{"filter":"datum.s === 'c'"}],"mark":{"type":"rule","strokeDash":[7,3],"strokeWidth":0.8,"color":"#222"},"encoding":{"x":{"datum":0,"type":"quantitative","axis":null}}},
{"transform":[{"filter":"datum.s !== 'c' && datum.s !== 'i'"}],"mark":{"type":"line","clip":true,"strokeWidth":0.8,"color":"#1a1a1a"},"encoding":{"x":{"field":"t","type":"quantitative","scale":{"domain":[-40,80],"nice":false,"zero":false},"axis":{"orient":"bottom","values":[-40,-35,-30,-25,-20,-15,-10,-5,0,5,10,15,20,25,30,35,40,45,50,55,60,65,70,75,80],"labels":false,"title":null}},"y":{"field":"a","type":"quantitative","scale":{"domain":[-3000,3000],"nice":false,"zero":false},"axis":{"orient":"left","values":[-3000,-2750,-2500,-2250,-2000,-1750,-1500,-1250,-1000,-750,-500,-250,0,250,500,750,1000,1250,1500,1750,2000,2250,2500,2750,3000],"format":"d","labelExpr":"datum.value % 1000 === 0 ? datum.label : ''","title":null}},"strokeDash":{"field":"s","type":"nominal","scale":{"domain":["w","i","h","v","d"],"range":[[1,0],[1,0],[1,0],[1,0],[5,3]]},"legend":null}}},
{"transform":[{"filter":"datum.s === 'i'"}],"mark":{"type":"line","clip":true,"strokeWidth":0.8,"color":"#1a1a1a","interpolate":"monotone"},"encoding":{"x":{"field":"t","type":"quantitative","axis":null},"y":{"field":"a","type":"quantitative","axis":null}}},
{"transform":[{"filter":"datum.s === 'c'"}],"mark":{"type":"point","shape":"circle","filled":true,"fill":"#ffffff","stroke":"#000000","strokeWidth":0.9,"size":290,"opacity":1},"encoding":{"x":{"field":"t","type":"quantitative","axis":{"orient":"top","values":[-40,-35,-30,-25,-20,-15,-10,-5,0,5,10,15,20,25,30,35,40,45,50,55,60,65,70,75,80],"labels":false,"title":null}},"y":{"field":"a","type":"quantitative","axis":{"orient":"right","values":[-3000,-2750,-2500,-2250,-2000,-1750,-1500,-1250,-1000,-750,-500,-250,0,250,500,750,1000,1250,1500,1750,2000,2250,2500,2750,3000],"labels":false,"title":null}}}},
{"transform":[{"filter":"datum.s === 'c'"}],"mark":{"type":"text","fontSize":13,"fontWeight":"bold","align":"center","baseline":"middle","dy":0.5,"color":"#000"},"encoding":{"x":{"field":"t","type":"quantitative","axis":null},"y":{"field":"a","type":"quantitative","axis":null},"text":{"field":"g"}}},
{"transform":[{"filter":"datum.s === 'c'"}],"mark":{"type":"text","fontSize":9.5,"align":"left","baseline":"alphabetic","color":"#000"},"encoding":{"x":{"datum":-35.5,"type":"quantitative","axis":null},"y":{"datum":2340,"type":"quantitative","axis":null},"text":{"field":"n"}}}
]},
{"width":219,"height":141,"transform":[{"filter":"datum.r === 3"}],"layer":[
{"transform":[{"filter":"datum.s === 'c'"}],"mark":{"type":"rule","strokeDash":[7,3],"strokeWidth":0.8,"color":"#222"},"encoding":{"x":{"datum":0,"type":"quantitative","axis":null}}},
{"transform":[{"filter":"datum.s !== 'c' && datum.s !== 'i'"}],"mark":{"type":"line","clip":true,"strokeWidth":0.8,"color":"#1a1a1a"},"encoding":{"x":{"field":"t","type":"quantitative","scale":{"domain":[-40,80],"nice":false,"zero":false},"axis":{"orient":"bottom","values":[-40,-35,-30,-25,-20,-15,-10,-5,0,5,10,15,20,25,30,35,40,45,50,55,60,65,70,75,80],"labels":false,"title":null}},"y":{"field":"a","type":"quantitative","scale":{"domain":[-3000,3000],"nice":false,"zero":false},"axis":{"orient":"left","values":[-3000,-2750,-2500,-2250,-2000,-1750,-1500,-1250,-1000,-750,-500,-250,0,250,500,750,1000,1250,1500,1750,2000,2250,2500,2750,3000],"format":"d","labelExpr":"datum.value % 1000 === 0 ? datum.label : ''","title":null}},"strokeDash":{"field":"s","type":"nominal","scale":{"domain":["w","i","h","v","d"],"range":[[1,0],[1,0],[1,0],[1,0],[5,3]]},"legend":null}}},
{"transform":[{"filter":"datum.s === 'i'"}],"mark":{"type":"line","clip":true,"strokeWidth":0.8,"color":"#1a1a1a","interpolate":"monotone"},"encoding":{"x":{"field":"t","type":"quantitative","axis":null},"y":{"field":"a","type":"quantitative","axis":null}}},
{"transform":[{"filter":"datum.s === 'c'"}],"mark":{"type":"point","shape":"circle","filled":true,"fill":"#ffffff","stroke":"#000000","strokeWidth":0.9,"size":290,"opacity":1},"encoding":{"x":{"field":"t","type":"quantitative","axis":{"orient":"top","values":[-40,-35,-30,-25,-20,-15,-10,-5,0,5,10,15,20,25,30,35,40,45,50,55,60,65,70,75,80],"labels":false,"title":null}},"y":{"field":"a","type":"quantitative","axis":{"orient":"right","values":[-3000,-2750,-2500,-2250,-2000,-1750,-1500,-1250,-1000,-750,-500,-250,0,250,500,750,1000,1250,1500,1750,2000,2250,2500,2750,3000],"labels":false,"title":null}}}},
{"transform":[{"filter":"datum.s === 'c'"}],"mark":{"type":"text","fontSize":13,"fontWeight":"bold","align":"center","baseline":"middle","dy":0.5,"color":"#000"},"encoding":{"x":{"field":"t","type":"quantitative","axis":null},"y":{"field":"a","type":"quantitative","axis":null},"text":{"field":"g"}}},
{"transform":[{"filter":"datum.s === 'c'"}],"mark":{"type":"text","fontSize":9.5,"align":"left","baseline":"alphabetic","color":"#000"},"encoding":{"x":{"datum":-35.5,"type":"quantitative","axis":null},"y":{"datum":2340,"type":"quantitative","axis":null},"text":{"field":"n"}}}
]},
{"width":219,"height":141,"transform":[{"filter":"datum.r === 4"}],"layer":[
{"transform":[{"filter":"datum.s === 'c'"}],"mark":{"type":"rule","strokeDash":[7,3],"strokeWidth":0.8,"color":"#222"},"encoding":{"x":{"datum":0,"type":"quantitative","axis":null}}},
{"transform":[{"filter":"datum.s !== 'c' && datum.s !== 'i'"}],"mark":{"type":"line","clip":true,"strokeWidth":0.8,"color":"#1a1a1a"},"encoding":{"x":{"field":"t","type":"quantitative","scale":{"domain":[-40,80],"nice":false,"zero":false},"axis":{"orient":"bottom","values":[-40,-35,-30,-25,-20,-15,-10,-5,0,5,10,15,20,25,30,35,40,45,50,55,60,65,70,75,80],"labels":false,"title":null}},"y":{"field":"a","type":"quantitative","scale":{"domain":[-3000,3000],"nice":false,"zero":false},"axis":{"orient":"left","values":[-3000,-2750,-2500,-2250,-2000,-1750,-1500,-1250,-1000,-750,-500,-250,0,250,500,750,1000,1250,1500,1750,2000,2250,2500,2750,3000],"format":"d","labelExpr":"datum.value % 1000 === 0 ? datum.label : ''","title":null}},"strokeDash":{"field":"s","type":"nominal","scale":{"domain":["w","i","h","v","d"],"range":[[1,0],[1,0],[1,0],[1,0],[5,3]]},"legend":null}}},
{"transform":[{"filter":"datum.s === 'i'"}],"mark":{"type":"line","clip":true,"strokeWidth":0.8,"color":"#1a1a1a","interpolate":"monotone"},"encoding":{"x":{"field":"t","type":"quantitative","axis":null},"y":{"field":"a","type":"quantitative","axis":null}}},
{"transform":[{"filter":"datum.s === 'c'"}],"mark":{"type":"point","shape":"circle","filled":true,"fill":"#ffffff","stroke":"#000000","strokeWidth":0.9,"size":290,"opacity":1},"encoding":{"x":{"field":"t","type":"quantitative","axis":{"orient":"top","values":[-40,-35,-30,-25,-20,-15,-10,-5,0,5,10,15,20,25,30,35,40,45,50,55,60,65,70,75,80],"labels":false,"title":null}},"y":{"field":"a","type":"quantitative","axis":{"orient":"right","values":[-3000,-2750,-2500,-2250,-2000,-1750,-1500,-1250,-1000,-750,-500,-250,0,250,500,750,1000,1250,1500,1750,2000,2250,2500,2750,3000],"labels":false,"title":null}}}},
{"transform":[{"filter":"datum.s === 'c'"}],"mark":{"type":"text","fontSize":13,"fontWeight":"bold","align":"center","baseline":"middle","dy":0.5,"color":"#000"},"encoding":{"x":{"field":"t","type":"quantitative","axis":null},"y":{"field":"a","type":"quantitative","axis":null},"text":{"field":"g"}}},
{"transform":[{"filter":"datum.s === 'c'"}],"mark":{"type":"text","fontSize":9.5,"align":"left","baseline":"alphabetic","color":"#000"},"encoding":{"x":{"datum":-35.5,"type":"quantitative","axis":null},"y":{"datum":2340,"type":"quantitative","axis":null},"text":{"field":"n"}}}
]},
{"width":219,"height":141,"transform":[{"filter":"datum.r === 5"}],"layer":[
{"transform":[{"filter":"datum.s === 'c'"}],"mark":{"type":"rule","strokeDash":[7,3],"strokeWidth":0.8,"color":"#222"},"encoding":{"x":{"datum":0,"type":"quantitative","axis":null}}},
{"transform":[{"filter":"datum.s !== 'c' && datum.s !== 'i'"}],"mark":{"type":"line","clip":true,"strokeWidth":0.8,"color":"#1a1a1a"},"encoding":{"x":{"field":"t","type":"quantitative","scale":{"domain":[-40,80],"nice":false,"zero":false},"axis":{"orient":"bottom","values":[-40,-35,-30,-25,-20,-15,-10,-5,0,5,10,15,20,25,30,35,40,45,50,55,60,65,70,75,80],"labels":false,"title":null}},"y":{"field":"a","type":"quantitative","scale":{"domain":[-3000,3000],"nice":false,"zero":false},"axis":{"orient":"left","values":[-3000,-2750,-2500,-2250,-2000,-1750,-1500,-1250,-1000,-750,-500,-250,0,250,500,750,1000,1250,1500,1750,2000,2250,2500,2750,3000],"format":"d","labelExpr":"datum.value % 1000 === 0 ? datum.label : ''","title":null}},"strokeDash":{"field":"s","type":"nominal","scale":{"domain":["w","i","h","v","d"],"range":[[1,0],[1,0],[1,0],[1,0],[5,3]]},"legend":null}}},
{"transform":[{"filter":"datum.s === 'i'"}],"mark":{"type":"line","clip":true,"strokeWidth":0.8,"color":"#1a1a1a","interpolate":"monotone"},"encoding":{"x":{"field":"t","type":"quantitative","axis":null},"y":{"field":"a","type":"quantitative","axis":null}}},
{"transform":[{"filter":"datum.s === 'c'"}],"mark":{"type":"point","shape":"circle","filled":true,"fill":"#ffffff","stroke":"#000000","strokeWidth":0.9,"size":290,"opacity":1},"encoding":{"x":{"field":"t","type":"quantitative","axis":{"orient":"top","values":[-40,-35,-30,-25,-20,-15,-10,-5,0,5,10,15,20,25,30,35,40,45,50,55,60,65,70,75,80],"labels":false,"title":null}},"y":{"field":"a","type":"quantitative","axis":{"orient":"right","values":[-3000,-2750,-2500,-2250,-2000,-1750,-1500,-1250,-1000,-750,-500,-250,0,250,500,750,1000,1250,1500,1750,2000,2250,2500,2750,3000],"labels":false,"title":null}}}},
{"transform":[{"filter":"datum.s === 'c'"}],"mark":{"type":"text","fontSize":13,"fontWeight":"bold","align":"center","baseline":"middle","dy":0.5,"color":"#000"},"encoding":{"x":{"field":"t","type":"quantitative","axis":null},"y":{"field":"a","type":"quantitative","axis":null},"text":{"field":"g"}}},
{"transform":[{"filter":"datum.s === 'c'"}],"mark":{"type":"text","fontSize":9.5,"align":"left","baseline":"alphabetic","color":"#000"},"encoding":{"x":{"datum":-35.5,"type":"quantitative","axis":null},"y":{"datum":2340,"type":"quantitative","axis":null},"text":{"field":"n"}}}
]},
{"width":219,"height":141,"transform":[{"filter":"datum.r === 6"}],"layer":[
{"transform":[{"filter":"datum.s === 'c'"}],"mark":{"type":"rule","strokeDash":[7,3],"strokeWidth":0.8,"color":"#222"},"encoding":{"x":{"datum":0,"type":"quantitative","axis":null}}},
{"transform":[{"filter":"datum.s !== 'c' && datum.s !== 'i'"}],"mark":{"type":"line","clip":true,"strokeWidth":0.8,"color":"#1a1a1a"},"encoding":{"x":{"field":"t","type":"quantitative","scale":{"domain":[-40,80],"nice":false,"zero":false},"axis":{"orient":"bottom","values":[-40,-35,-30,-25,-20,-15,-10,-5,0,5,10,15,20,25,30,35,40,45,50,55,60,65,70,75,80],"labels":false,"title":null}},"y":{"field":"a","type":"quantitative","scale":{"domain":[-3000,3000],"nice":false,"zero":false},"axis":{"orient":"left","values":[-3000,-2750,-2500,-2250,-2000,-1750,-1500,-1250,-1000,-750,-500,-250,0,250,500,750,1000,1250,1500,1750,2000,2250,2500,2750,3000],"format":"d","labelExpr":"datum.value % 1000 === 0 ? datum.label : ''","title":null}},"strokeDash":{"field":"s","type":"nominal","scale":{"domain":["w","i","h","v","d"],"range":[[1,0],[1,0],[1,0],[1,0],[5,3]]},"legend":null}}},
{"transform":[{"filter":"datum.s === 'i'"}],"mark":{"type":"line","clip":true,"strokeWidth":0.8,"color":"#1a1a1a","interpolate":"monotone"},"encoding":{"x":{"field":"t","type":"quantitative","axis":null},"y":{"field":"a","type":"quantitative","axis":null}}},
{"transform":[{"filter":"datum.s === 'c'"}],"mark":{"type":"point","shape":"circle","filled":true,"fill":"#ffffff","stroke":"#000000","strokeWidth":0.9,"size":290,"opacity":1},"encoding":{"x":{"field":"t","type":"quantitative","axis":{"orient":"top","values":[-40,-35,-30,-25,-20,-15,-10,-5,0,5,10,15,20,25,30,35,40,45,50,55,60,65,70,75,80],"labels":false,"title":null}},"y":{"field":"a","type":"quantitative","axis":{"orient":"right","values":[-3000,-2750,-2500,-2250,-2000,-1750,-1500,-1250,-1000,-750,-500,-250,0,250,500,750,1000,1250,1500,1750,2000,2250,2500,2750,3000],"labels":false,"title":null}}}},
{"transform":[{"filter":"datum.s === 'c'"}],"mark":{"type":"text","fontSize":13,"fontWeight":"bold","align":"center","baseline":"middle","dy":0.5,"color":"#000"},"encoding":{"x":{"field":"t","type":"quantitative","axis":null},"y":{"field":"a","type":"quantitative","axis":null},"text":{"field":"g"}}},
{"transform":[{"filter":"datum.s === 'c'"}],"mark":{"type":"text","fontSize":9.5,"align":"left","baseline":"alphabetic","color":"#000"},"encoding":{"x":{"datum":-35.5,"type":"quantitative","axis":null},"y":{"datum":2340,"type":"quantitative","axis":null},"text":{"field":"n"}}}
]},
{"width":219,"height":141,"transform":[{"filter":"datum.r === 7"}],"layer":[
{"transform":[{"filter":"datum.s === 'c'"}],"mark":{"type":"rule","strokeDash":[7,3],"strokeWidth":0.8,"color":"#222"},"encoding":{"x":{"datum":0,"type":"quantitative","axis":null}}},
{"transform":[{"filter":"datum.s !== 'c' && datum.s !== 'i'"}],"mark":{"type":"line","clip":true,"strokeWidth":0.8,"color":"#1a1a1a"},"encoding":{"x":{"field":"t","type":"quantitative","scale":{"domain":[-40,80],"nice":false,"zero":false},"axis":{"orient":"bottom","values":[-40,-35,-30,-25,-20,-15,-10,-5,0,5,10,15,20,25,30,35,40,45,50,55,60,65,70,75,80],"labelExpr":"datum.value % 20 === 0 ? datum.label : ''","title":null}},"y":{"field":"a","type":"quantitative","scale":{"domain":[-1000,1000],"nice":false,"zero":false},"axis":{"orient":"left","values":[-1000,-875,-750,-625,-500,-375,-250,-125,0,125,250,375,500,625,750,875,1000],"format":"d","labelExpr":"datum.value % 250 === 0 ? datum.label : ''","title":null}},"strokeDash":{"field":"s","type":"nominal","scale":{"domain":["w","i","h","v","d"],"range":[[1,0],[1,0],[1,0],[1,0],[5,3]]},"legend":null}}},
{"transform":[{"filter":"datum.s === 'i'"}],"mark":{"type":"line","clip":true,"strokeWidth":0.8,"color":"#1a1a1a","interpolate":"monotone"},"encoding":{"x":{"field":"t","type":"quantitative","axis":null},"y":{"field":"a","type":"quantitative","axis":null}}},
{"transform":[{"filter":"datum.s === 'c'"}],"mark":{"type":"point","shape":"circle","filled":true,"fill":"#ffffff","stroke":"#000000","strokeWidth":0.9,"size":290,"opacity":1},"encoding":{"x":{"field":"t","type":"quantitative","axis":{"orient":"top","values":[-40,-35,-30,-25,-20,-15,-10,-5,0,5,10,15,20,25,30,35,40,45,50,55,60,65,70,75,80],"labels":false,"title":null}},"y":{"field":"a","type":"quantitative","axis":{"orient":"right","values":[-1000,-875,-750,-625,-500,-375,-250,-125,0,125,250,375,500,625,750,875,1000],"labels":false,"title":null}}}},
{"transform":[{"filter":"datum.s === 'c'"}],"mark":{"type":"text","fontSize":13,"fontWeight":"bold","align":"center","baseline":"middle","dy":0.5,"color":"#000"},"encoding":{"x":{"field":"t","type":"quantitative","axis":null},"y":{"field":"a","type":"quantitative","axis":null},"text":{"field":"g"}}},
{"transform":[{"filter":"datum.s === 'c'"}],"mark":{"type":"text","fontSize":9.5,"align":"left","baseline":"alphabetic","color":"#000"},"encoding":{"x":{"datum":-35.5,"type":"quantitative","axis":null},"y":{"datum":780,"type":"quantitative","axis":null},"text":{"field":"n"}}}
]},
{"width":219,"height":141,"transform":[{"filter":"datum.r === 8"}],"layer":[
{"transform":[{"filter":"datum.s === 'c'"}],"mark":{"type":"rule","strokeDash":[7,3],"strokeWidth":0.8,"color":"#222"},"encoding":{"x":{"datum":0,"type":"quantitative","axis":null}}},
{"transform":[{"filter":"datum.s !== 'c' && datum.s !== 'i'"}],"mark":{"type":"line","clip":true,"strokeWidth":0.8,"color":"#1a1a1a"},"encoding":{"x":{"field":"t","type":"quantitative","scale":{"domain":[-40,80],"nice":false,"zero":false},"axis":{"orient":"bottom","values":[-40,-35,-30,-25,-20,-15,-10,-5,0,5,10,15,20,25,30,35,40,45,50,55,60,65,70,75,80],"labelExpr":"datum.value % 20 === 0 ? datum.label : ''","title":"Time (µs)","titleFontSize":13.5,"titleX":226,"titleY":31,"titleAlign":"right","titleBaseline":"alphabetic"}},"y":{"field":"a","type":"quantitative","scale":{"domain":[-3000,3000],"nice":false,"zero":false},"axis":{"orient":"left","values":[-3000,-2750,-2500,-2250,-2000,-1750,-1500,-1250,-1000,-750,-500,-250,0,250,500,750,1000,1250,1500,1750,2000,2250,2500,2750,3000],"format":"d","labelExpr":"datum.value % 1000 === 0 ? datum.label : ''","title":null}},"strokeDash":{"field":"s","type":"nominal","scale":{"domain":["w","i","h","v","d"],"range":[[1,0],[1,0],[1,0],[1,0],[5,3]]},"legend":null}}},
{"transform":[{"filter":"datum.s === 'i'"}],"mark":{"type":"line","clip":true,"strokeWidth":0.8,"color":"#1a1a1a","interpolate":"monotone"},"encoding":{"x":{"field":"t","type":"quantitative","axis":null},"y":{"field":"a","type":"quantitative","axis":null}}},
{"transform":[{"filter":"datum.s === 'c'"}],"mark":{"type":"point","shape":"circle","filled":true,"fill":"#ffffff","stroke":"#000000","strokeWidth":0.9,"size":290,"opacity":1},"encoding":{"x":{"field":"t","type":"quantitative","axis":{"orient":"top","values":[-40,-35,-30,-25,-20,-15,-10,-5,0,5,10,15,20,25,30,35,40,45,50,55,60,65,70,75,80],"labels":false,"title":null}},"y":{"field":"a","type":"quantitative","axis":{"orient":"right","values":[-3000,-2750,-2500,-2250,-2000,-1750,-1500,-1250,-1000,-750,-500,-250,0,250,500,750,1000,1250,1500,1750,2000,2250,2500,2750,3000],"labels":false,"title":null}}}},
{"transform":[{"filter":"datum.s === 'c'"}],"mark":{"type":"text","fontSize":13,"fontWeight":"bold","align":"center","baseline":"middle","dy":0.5,"color":"#000"},"encoding":{"x":{"field":"t","type":"quantitative","axis":null},"y":{"field":"a","type":"quantitative","axis":null},"text":{"field":"g"}}},
{"transform":[{"filter":"datum.s === 'c'"}],"mark":{"type":"text","fontSize":9.5,"align":"left","baseline":"alphabetic","color":"#000"},"encoding":{"x":{"datum":-35.5,"type":"quantitative","axis":null},"y":{"datum":2340,"type":"quantitative","axis":null},"text":{"field":"n"}}}
]}
],
"config":{
"view":{"stroke":"#000000","strokeWidth":0.8},
"axis":{"tickSize":-2.5,"tickWidth":0.6,"tickColor":"#222","labelPadding":5,"labelFontSize":5,"labelFont":"Liberation Sans","labelColor":"#333","domain":false,"grid":false,"labelOverlap":false,"labelFlush":false,"titleFont":"Liberation Sans","titleFontWeight":"normal","titleColor":"#000"},
"text":{"font":"Liberation Sans"}
}
}
